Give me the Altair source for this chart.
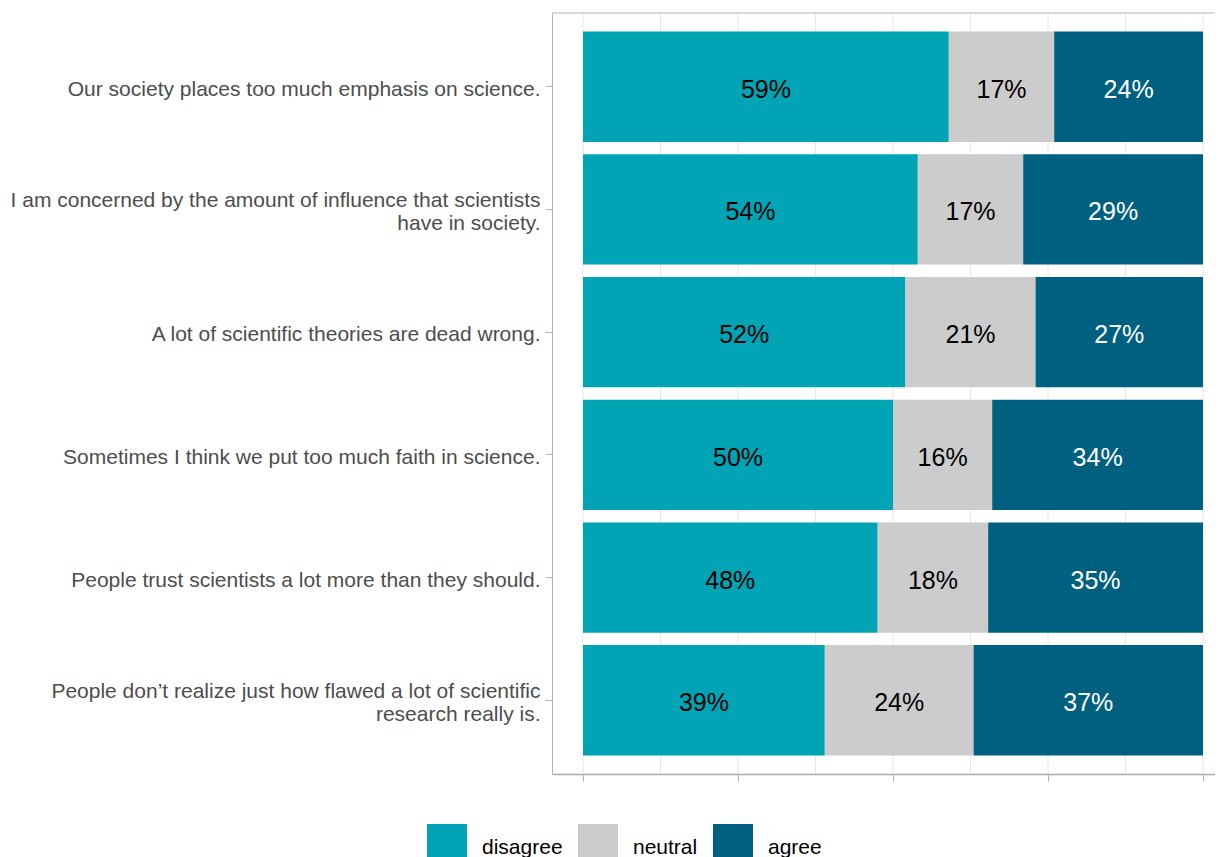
import altair as alt
import pandas as pd

items = [
    "Our society places too much emphasis on science.",
    "I am concerned by the amount of influence that scientists\nhave in society.",
    "A lot of scientific theories are dead wrong.",
    "Sometimes I think we put too much faith in science.",
    "People trust scientists a lot more than they should.",
    "People don\u2019t realize just how flawed a lot of scientific\nresearch really is.",
]
disagree = [59, 54, 52, 50, 48, 39]
neutral = [17, 17, 21, 16, 18, 24]
agree = [24, 29, 27, 34, 35, 37]
responses = ["disagree", "neutral", "agree"]
colors = ["#00a4b4", "#cccccc", "#00607f"]
grid_major = [0, 0.25, 0.5, 0.75, 1.0]
grid_minor = [0.125, 0.375, 0.625, 0.875]

rows = []
for i, it in enumerate(items):
    for k, (r, vals) in enumerate(zip(responses, [disagree, neutral, agree])):
        rows.append({"item": it, "response": r, "order": k, "pct": vals[i]})
df = pd.DataFrame(rows)

grid_df = pd.DataFrame({"g": grid_major + grid_minor})

PW = 663
xscale = alt.Scale(domain=[-0.05, 1.01935], nice=False, zero=False)
yscale = alt.Scale(domain=items, paddingInner=0.1, paddingOuter=0.15)

grid = alt.Chart(grid_df).mark_rule(color="#e6e6e6", strokeWidth=1).encode(
    x=alt.X("g:Q", scale=xscale)
)

top_border = alt.Chart(grid_df.head(1)).mark_rule(color="#b3b3b3", strokeWidth=1).encode(
    x=alt.value(0), x2=alt.value(PW), y=alt.value(0)
)

base = alt.Chart(df).transform_stack(
    stack="pct",
    groupby=["item"],
    sort=[alt.SortField("order", order="ascending")],
    as_=["x0", "x1"],
    offset="normalize",
).transform_calculate(
    mid="(datum.x0 + datum.x1) / 2",
    lab="datum.pct + '%'",
)

bars = base.mark_bar(strokeWidth=0).encode(
    x=alt.X(
        "x0:Q",
        scale=xscale,
        axis=alt.Axis(
            values=grid_major,
            labels=False,
            ticks=True,
            tickSize=7,
            tickColor="#b3b3b3",
            tickWidth=1,
            domainColor="#aaaaaa",
            domainWidth=1.5,
            grid=False,
            title=None,
        ),
    ),
    x2="x1:Q",
    y=alt.Y(
        "item:N",
        scale=yscale,
        sort=items,
        axis=alt.Axis(
            title=None,
            labelExpr="split(datum.label, '\\n')",
            labelFontSize=21,
            labelColor="#4d4d4d",
            labelLimit=700,
            labelLineHeight=23.5,
            labelPadding=5,
            labelOffset={
                "condition": {"test": "indexof(datum.label, '\\n') >= 0", "value": -8.75},
                "value": 3,
            },
            tickSize=7,
            tickColor="#b3b3b3",
            domainColor="#b3b3b3",
            domainWidth=1,
            grid=False,
        ),
    ),
    color=alt.Color(
        "response:N",
        scale=alt.Scale(domain=responses, range=colors),
        sort=responses,
        legend=alt.Legend(
            title=None,
            orient="none",
            legendX=-125,
            legendY=815,
            direction="horizontal",
            symbolType="M-1,-1.2H1V0.8H-1Z",
            symbolSize=1600,
            symbolStrokeWidth=0,
            symbolOpacity=1,
            labelFontSize=21,
            labelColor="#000000",
            labelOffset=15,
            columnPadding=15,
            padding=0,
        ),
    ),
)

texts = base.mark_text(fontSize=25, dy=3).encode(
    x=alt.X("mid:Q", scale=xscale),
    y=alt.Y("item:N", scale=yscale, sort=items),
    text="lab:N",
    color=alt.condition(
        "datum.response == 'agree'", alt.value("#ffffff"), alt.value("#000000")
    ),
)

chart = (
    alt.layer(grid, top_border, bars, texts)
    .properties(
        width=PW,
        height=761,
        autosize="none",
        padding={"left": 544, "top": 5, "right": 0, "bottom": 90},
    )
    .configure(font="Liberation Sans")
    .configure_view(stroke=None)
    .configure_axis(grid=False)
)

chart.save("out.html", embed_options={"renderer": "svg", "actions": False})
